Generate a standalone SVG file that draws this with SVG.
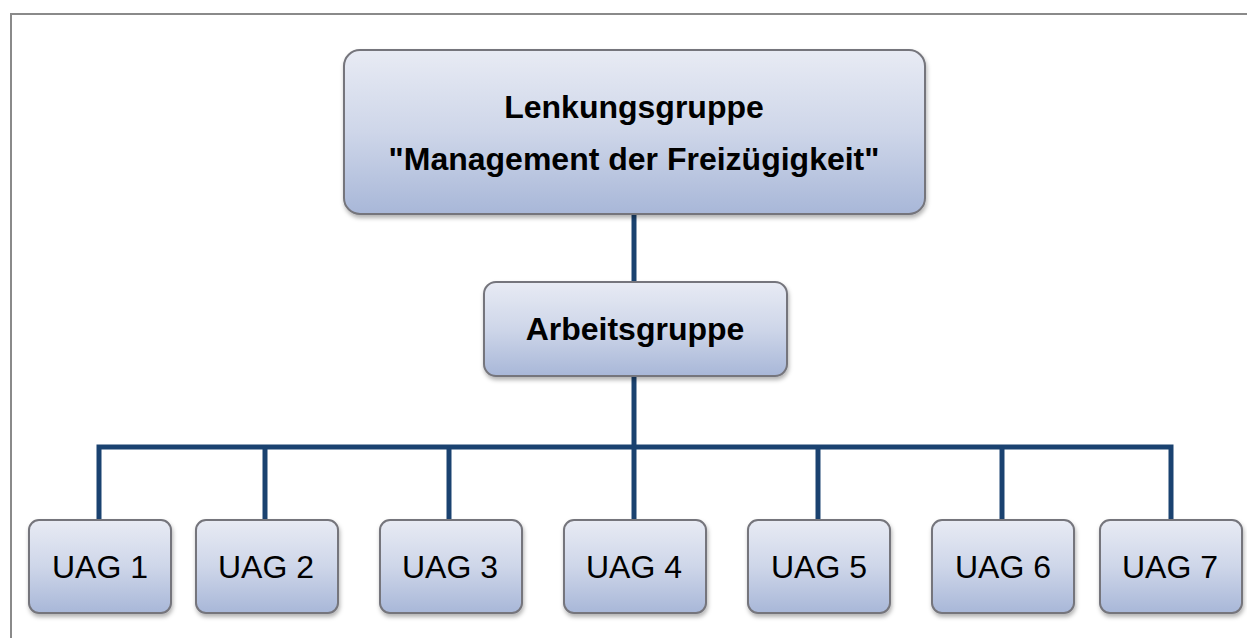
<svg xmlns="http://www.w3.org/2000/svg" width="1247" height="638" viewBox="0 0 1247 638">
<defs>
<linearGradient id="g" x1="0" y1="0" x2="0" y2="1">
<stop offset="0" stop-color="#e8ebf4"/>
<stop offset="0.5" stop-color="#ced6e9"/>
<stop offset="1" stop-color="#a8b7d8"/>
</linearGradient>
<filter id="sh" x="-10%" y="-10%" width="120%" height="130%">
<feDropShadow dx="1" dy="3" stdDeviation="2" flood-color="#000" flood-opacity="0.3"/>
</filter>
</defs>
<style>
.box{fill:url(#g);stroke:#75757c;stroke-width:2;filter:url(#sh)}
.c{fill:none;stroke:#1a4270;stroke-width:5}
.b{font-family:"Liberation Sans",Arial,sans-serif;font-weight:bold;font-size:32px;fill:#000;text-anchor:middle}
.n{font-family:"Liberation Sans",Arial,sans-serif;font-size:32px;fill:#000;text-anchor:middle}
</style>
<rect width="1247" height="638" fill="#fff"/>
<path d="M11 638 V14 H1247" fill="none" stroke="#8a8a8a" stroke-width="2"/>
<g id="connectors">
<line class="c" x1="634" y1="214" x2="634" y2="282"/>
<line class="c" x1="634" y1="376" x2="634" y2="447"/>
<path class="c" d="M99 520 V447 H1171 V520"/>
<line class="c" x1="265" y1="447" x2="265" y2="520"/>
<line class="c" x1="449" y1="447" x2="449" y2="520"/>
<line class="c" x1="634" y1="447" x2="634" y2="520"/>
<line class="c" x1="818" y1="447" x2="818" y2="520"/>
<line class="c" x1="1002" y1="447" x2="1002" y2="520"/>
</g>
<g id="lenkungsgruppe">
<rect class="box" x="344" y="50" width="581" height="164" rx="16"/>
<text class="b" x="634" y="118">Lenkungsgruppe</text>
<text class="b" x="634" y="170">"Management der Freizügigkeit"</text>
</g>
<g id="arbeitsgruppe">
<rect class="box" x="484" y="282" width="303" height="94" rx="12"/>
<text class="b" x="635" y="340">Arbeitsgruppe</text>
</g>
<g id="uag1"><rect class="box" x="29" y="520" width="142" height="93" rx="10"/><text class="n" x="100" y="578">UAG 1</text></g>
<g id="uag2"><rect class="box" x="196" y="520" width="142" height="93" rx="10"/><text class="n" x="266" y="578">UAG 2</text></g>
<g id="uag3"><rect class="box" x="380" y="520" width="142" height="93" rx="10"/><text class="n" x="450" y="578">UAG 3</text></g>
<g id="uag4"><rect class="box" x="564" y="520" width="142" height="93" rx="10"/><text class="n" x="634" y="578">UAG 4</text></g>
<g id="uag5"><rect class="box" x="748" y="520" width="142" height="93" rx="10"/><text class="n" x="819" y="578">UAG 5</text></g>
<g id="uag6"><rect class="box" x="932" y="520" width="142" height="93" rx="10"/><text class="n" x="1003" y="578">UAG 6</text></g>
<g id="uag7"><rect class="box" x="1100" y="520" width="142" height="93" rx="10"/><text class="n" x="1170" y="578">UAG 7</text></g>
</svg>
